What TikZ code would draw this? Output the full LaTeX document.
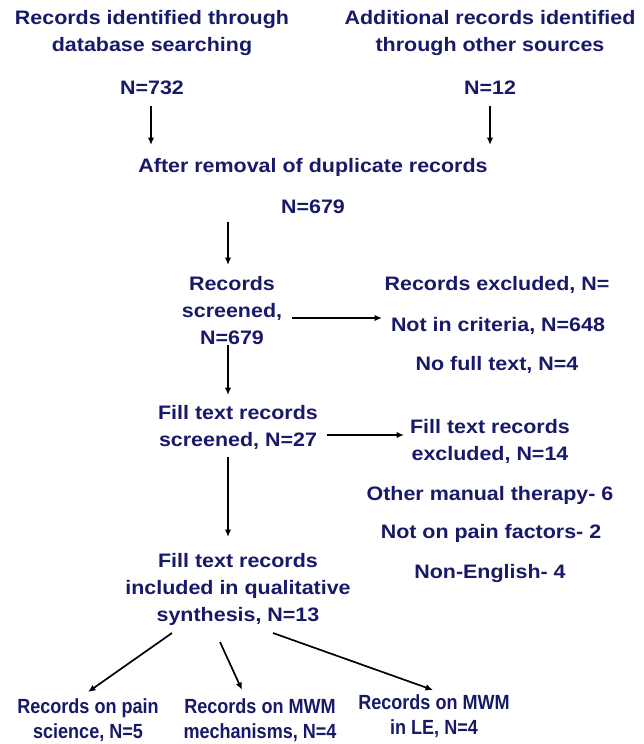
\documentclass[tikz,border=0pt]{standalone}
\usepackage{fontspec}
\setmainfont{Liberation Sans}[FakeStretch=1.1]
\newfontfamily\condfont{Liberation Sans}[FakeStretch=0.88]
\usetikzlibrary{arrows.meta,calc}
\definecolor{navy}{RGB}{25,25,105}
\begin{document}
\begin{tikzpicture}[x=1pt,y=-1pt,
  txt/.style={inner sep=0pt,align=center,text=navy,font=\fontsize{19.5}{27}\selectfont\bfseries},
  btxt/.style={inner sep=0pt,align=center,text=navy,font=\condfont\fontsize{20.5}{25}\selectfont\bfseries},
  arr/.style={draw=black,line width=1.7pt,-{Latex[length=7.5pt,width=6.5pt]}}]
\useasboundingbox[fill=white] (0,0) rectangle (644,744);
\node[txt] (src1) at (152,33.5) {Records identified through\\database searching};
\node[txt] (src2) at (490,33.5) {Additional records identified\\through other sources};
\node[txt] (n1) at (152,88) {N=732};
\node[txt] (n2) at (490,88) {N=12};
\node[txt] (dup) at (313,167) {After removal of duplicate records};
\node[txt] (n679) at (313,207) {N=679};
\node[txt] (screened) at (232,311) {Records\\screened,\\N=679};
\node[txt] (excl) at (497,285) {Records excluded, N=};
\node[txt] (crit) at (498,326) {Not in criteria, N=648};
\node[txt] (nofull) at (497,365) {No full text, N=4};
\node[txt] (fts) at (238,427) {Fill text records\\screened, N=27};
\node[txt] (ftex) at (490,441) {Fill text records\\excluded, N=14};
\node[txt] (other) at (490,495) {Other manual therapy- 6};
\node[txt] (pain) at (491,533) {Not on pain factors- 2};
\node[txt] (nonen) at (490,573) {Non-English- 4};
\node[txt] (incl) at (238,589) {Fill text records\\included in qualitative\\synthesis, N=13};
\node[btxt] (b1) at (88,720) {Records on pain\\science, N=5};
\node[btxt] (b2) at (260,720) {Records on MWM\\mechanisms, N=4};
\node[btxt] (b3) at (434,716) {Records on MWM\\in LE, N=4};
\draw[arr] ($(n1.center)+(-1,18)$) -- ($(n1.center)+(-1,57)$);
\draw[arr] ($(n2.center)+(0,18)$) -- ($(n2.center)+(0,57)$);
\draw[arr] ($(screened.center)+(-4,-89)$) -- ($(screened.center)+(-4,-46)$);
\draw[arr] ($(screened.center)+(60,7)$) -- ($(screened.center)+(150,7)$);
\draw[arr] ($(screened.center)+(-4,34)$) -- ($(screened.center)+(-4,84)$);
\draw[arr] ($(fts.center)+(89,8)$) -- ($(fts.center)+(166,8)$);
\draw[arr] ($(fts.center)+(-10,30)$) -- ($(fts.center)+(-10,110)$);
\draw[arr] ($(incl.center)+(-66,44)$) -- ($(b1.center)+(0,-28)$);
\draw[arr] ($(incl.center)+(-18,53)$) -- ($(b2.center)+(-18,-30)$);
\draw[arr] ($(incl.center)+(35,44)$) -- ($(b3.center)+(-1,-26)$);
\end{tikzpicture}
\end{document}
